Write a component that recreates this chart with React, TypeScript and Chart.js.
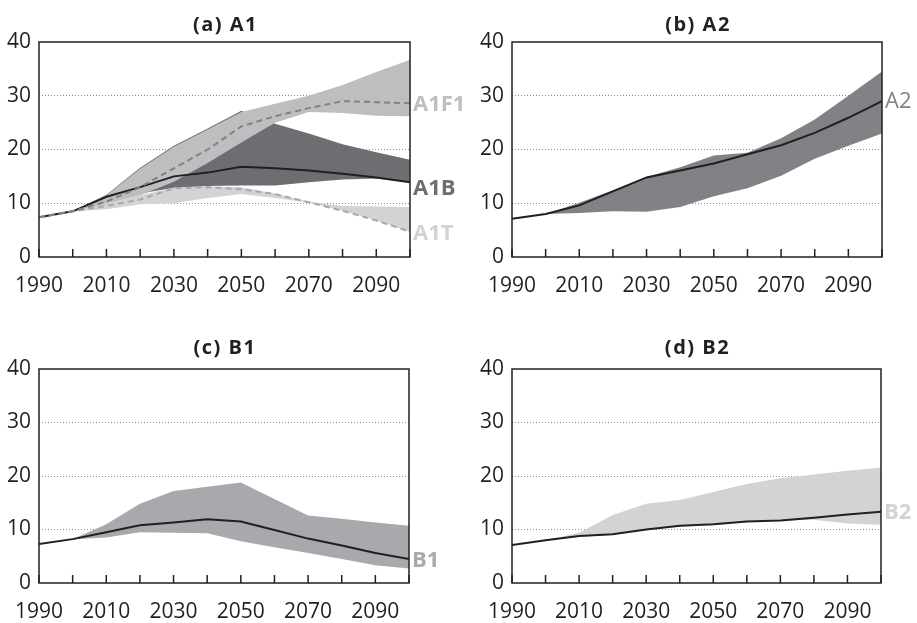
import React, { useEffect, useRef } from 'react';
import { Chart, registerables } from 'chart.js';

Chart.register(...registerables);

// ---------- data ----------
const years = [1990, 2000, 2010, 2020, 2030, 2040, 2050, 2060, 2070, 2080, 2090, 2100];
const xTickLabels = ['1990', '2010', '2030', '2050', '2070', '2090'];

// (a) A1
const a1bLine = [7.4, 8.5, 11.2, 13.0, 15.0, 15.7, 16.8, 16.5, 16.1, 15.5, 14.8, 13.9];
const a1bHigh = [7.4, 8.5, 11.6, 16.6, 20.7, 23.9, 27.2, 24.8, 23.0, 21.0, 19.5, 18.1];
const a1bLow = [7.4, 8.5, 10.3, 11.8, 12.9, 13.2, 13.3, 13.3, 13.9, 14.4, 14.6, 13.9];
const a1fiLine = [7.4, 8.5, 10.3, 13.0, 16.5, 20.0, 24.3, 26.2, 27.7, 29.0, 28.8, 28.6];
const a1fiHigh = [7.4, 8.5, 11.5, 16.4, 20.5, 23.7, 27.0, 28.5, 30.0, 32.0, 34.4, 36.7];
const a1fiLow = [7.4, 8.5, 9.9, 11.5, 14.0, 17.5, 21.3, 25.0, 27.0, 26.8, 26.3, 26.2];
const a1tLine = [7.4, 8.5, 9.5, 10.7, 12.8, 13.0, 12.6, 11.7, 10.2, 8.6, 6.8, 4.7];
const a1tHigh = [7.4, 8.5, 10.0, 11.5, 12.9, 13.1, 13.0, 11.8, 10.3, 9.5, 9.4, 9.3];
const a1tLow = [7.4, 8.5, 8.9, 9.8, 10.0, 11.0, 11.7, 11.0, 10.1, 8.6, 6.8, 4.7];

// (b) A2
const a2Line = [7.1, 8.0, 9.6, 12.2, 14.8, 16.1, 17.4, 19.1, 20.8, 23.1, 25.9, 29.0];
const a2High = [7.1, 8.0, 10.1, 12.4, 14.9, 16.7, 18.9, 19.4, 22.1, 25.6, 30.0, 34.5];
const a2Low = [7.1, 8.0, 8.2, 8.5, 8.4, 9.3, 11.3, 12.8, 15.1, 18.3, 20.7, 23.0];

// (c) B1
const b1Line = [7.3, 8.2, 9.5, 10.8, 11.3, 11.9, 11.5, 9.9, 8.3, 7.0, 5.6, 4.5];
const b1High = [7.3, 8.2, 11.0, 14.8, 17.2, 18.0, 18.8, 15.7, 12.6, 12.0, 11.3, 10.7];
const b1Low = [7.3, 8.2, 8.5, 9.5, 9.4, 9.3, 7.8, 6.7, 5.6, 4.5, 3.3, 2.7];

// (d) B2
const b2Line = [7.1, 8.0, 8.8, 9.1, 10.0, 10.7, 11.0, 11.5, 11.7, 12.2, 12.8, 13.3];
const b2High = [7.1, 8.0, 9.4, 12.7, 14.8, 15.5, 17.0, 18.5, 19.6, 20.3, 21.0, 21.6];
const b2Low = [7.1, 8.0, 8.6, 9.0, 9.9, 10.5, 10.8, 11.4, 11.7, 11.8, 11.1, 10.9];

// ---------- styling ----------
const FONT = '"Open Sans", "Noto Sans", sans-serif';
const INK = '#231f20';

type Band = { high: number[]; low: number[]; color: string };
type Line = { values: number[]; color: string; dash?: number[] };
type Label = { text: string; value: number; color: string; bold: boolean };
type Panel = {
  left: number; top: number; w: number; h: number;
  area: { l: number; r: number; t: number; b: number };
  title: string; titleBase: number;
  bands: Band[]; lines: Line[]; labels: Label[];
};

const panels: Panel[] = [
  {
    left: 0, top: 0, w: 470, h: 300,
    area: { l: 39, r: 410, t: 42, b: 257 },
    title: '(a) A1', titleBase: 31,
    bands: [
      { high: a1bHigh, low: a1bLow, color: '#6d6e71' },
      { high: a1fiHigh, low: a1fiLow, color: '#bcbec0' },
      { high: a1tHigh, low: a1tLow, color: '#d1d3d4' },
    ],
    lines: [
      { values: a1bLine, color: INK },
      { values: a1tLine, color: '#a7a9ac', dash: [6, 4] },
      { values: a1fiLine, color: '#808285', dash: [6, 4] },
    ],
    labels: [
      { text: 'A1F1', value: 28.6, color: '#bcbec0', bold: true },
      { text: 'A1B', value: 13.0, color: '#6d6e71', bold: true },
      { text: 'A1T', value: 4.7, color: '#d1d3d4', bold: true },
    ],
  },
  {
    left: 460, top: 0, w: 457, h: 300,
    area: { l: 52, r: 422, t: 42, b: 257 },
    title: '(b) A2', titleBase: 31,
    bands: [{ high: a2High, low: a2Low, color: '#808285' }],
    lines: [{ values: a2Line, color: INK }],
    labels: [{ text: 'A2', value: 29.2, color: '#808285', bold: false }],
  },
  {
    left: 0, top: 300, w: 470, h: 323,
    area: { l: 39, r: 409, t: 69, b: 283 },
    title: '(c) B1', titleBase: 53.5,
    bands: [{ high: b1High, low: b1Low, color: '#a7a9ac' }],
    lines: [{ values: b1Line, color: INK }],
    labels: [{ text: 'B1', value: 4.5, color: '#a7a9ac', bold: true }],
  },
  {
    left: 460, top: 300, w: 457, h: 323,
    area: { l: 52, r: 421, t: 69, b: 283 },
    title: '(d) B2', titleBase: 53.5,
    bands: [{ high: b2High, low: b2Low, color: '#d1d3d4' }],
    lines: [{ values: b2Line, color: INK }],
    labels: [{ text: 'B2', value: 13.4, color: '#d1d3d4', bold: true }],
  },
];

const Y_AXIS_W = 39;

function pts(v: number[]) {
  return v.map((y, i) => ({ x: years[i], y }));
}

function PanelChart({ cfg }: { cfg: Panel }) {
  const ref = useRef<HTMLCanvasElement>(null);

  useEffect(() => {
    const canvas = ref.current!;
    const datasets: any[] = [];
    let order = 100;
    cfg.bands.forEach((b) => {
      const hi = datasets.length;
      datasets.push({
        data: pts(b.high), borderWidth: 0, pointRadius: 0,
        backgroundColor: b.color, fill: hi + 1, order: order--,
      });
      datasets.push({
        data: pts(b.low), borderWidth: 0, pointRadius: 0,
        backgroundColor: b.color, fill: false, order: order--,
      });
    });
    cfg.lines.forEach((l) => {
      datasets.push({
        data: pts(l.values), borderColor: l.color, borderWidth: 2,
        borderDash: l.dash || [], pointRadius: 0, fill: false,
        tension: 0, order: order--,
      });
    });

    const deco = {
      id: 'deco',
      afterDraw(chart: any) {
        const { ctx, chartArea: ca, scales } = chart;
        ctx.save();
        ctx.strokeStyle = INK;
        ctx.lineWidth = 1.5;
        ctx.setLineDash([]);
        scales.x.ticks.forEach((t: any) => {
          const px = scales.x.getPixelForValue(t.value);
          ctx.beginPath();
          ctx.moveTo(px, ca.bottom);
          ctx.lineTo(px, ca.bottom - 8);
          ctx.stroke();
        });
        ctx.strokeRect(ca.left, ca.top, ca.right - ca.left, ca.bottom - ca.top);

        (ctx as any).letterSpacing = '1.5px';
        ctx.font = `bold 20px ${FONT}`;
        ctx.fillStyle = INK;
        ctx.textAlign = 'center';
        ctx.textBaseline = 'alphabetic';
        ctx.fillText(cfg.title, (ca.left + ca.right) / 2 + 1, cfg.titleBase);

        (ctx as any).letterSpacing = '0px';
        ctx.textAlign = 'left';
        cfg.labels.forEach((l) => {
          ctx.font = `${l.bold ? 'bold ' : ''}22px ${FONT}`;
          ctx.fillStyle = l.color;
          const py = scales.y.getPixelForValue(l.value);
          ctx.fillText(l.text, ca.right + 3, py + 0.357 * 22);
        });
        ctx.restore();
      },
    };

    const chart = new Chart(canvas, {
      type: 'line',
      data: { datasets },
      options: {
        animation: false,
        responsive: false,
        events: [],
        layout: {
          padding: {
            left: cfg.area.l - Y_AXIS_W,
            right: cfg.w - cfg.area.r,
            top: cfg.area.t,
            bottom: 0,
          },
        },
        plugins: {
          legend: { display: false },
          tooltip: { enabled: false },
          title: { display: false },
        },
        scales: {
          x: {
            type: 'linear',
            min: 1990,
            max: 2100,
            grid: { display: false },
            border: { display: false },
            ticks: {
              stepSize: 10,
              autoSkip: false,
              maxRotation: 0,
              padding: 8,
              color: INK,
              font: { family: FONT, size: 21 },
              callback: (v: any) => (xTickLabels.includes(String(v)) ? String(v) : ''),
            },
            afterFit: (s: any) => { s.height = cfg.h - cfg.area.b; },
          },
          y: {
            type: 'linear',
            min: 0,
            max: 40,
            grid: {
              drawTicks: false,
              lineWidth: 1,
              color: (c: any) =>
                c.tick && (c.tick.value === 0 || c.tick.value === 40) ? 'rgba(0,0,0,0)' : '#8c8c8c',
            },
            border: { display: false, dash: [1, 2] },
            ticks: {
              stepSize: 10,
              padding: 8,
              color: INK,
              font: { family: FONT, size: 21 },
            },
            afterFit: (s: any) => { s.width = Y_AXIS_W; },
          },
        },
      },
      plugins: [deco],
    });
    return () => chart.destroy();
  }, [cfg]);

  return (
    <canvas
      ref={ref}
      width={cfg.w}
      height={cfg.h}
      style={{ position: 'absolute', left: cfg.left, top: cfg.top, width: cfg.w, height: cfg.h }}
    />
  );
}

export default function App() {
  return (
    <div style={{ position: 'absolute', left: 0, top: 0, width: 917, height: 623, background: '#fff' }}>
      {panels.map((p, i) => (
        <PanelChart key={i} cfg={p} />
      ))}
    </div>
  );
}
